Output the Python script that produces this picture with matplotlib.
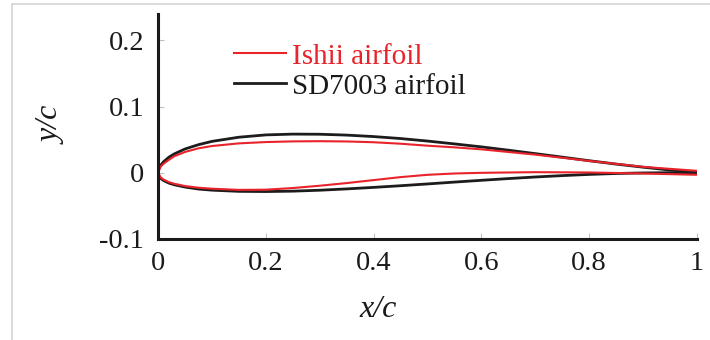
import matplotlib
matplotlib.use("Agg")
import matplotlib.pyplot as plt
from matplotlib.lines import Line2D

# SD7003 airfoil (approximate coordinates)
sd_x = [0, 0.0005, 0.0025, 0.005, 0.01, 0.02, 0.03, 0.05, 0.075, 0.1, 0.15, 0.2, 0.25,
        0.3, 0.35, 0.4, 0.45, 0.5, 0.55, 0.6, 0.65, 0.7, 0.75, 0.8, 0.85, 0.9, 0.95, 1.0]
sd_upper = [0, 0.0035, 0.0080, 0.0115, 0.0165, 0.0235, 0.0285, 0.0360, 0.0425, 0.0475,
            0.0538, 0.0573, 0.0585, 0.0583, 0.0570, 0.0548, 0.0518, 0.0480, 0.0437, 0.0392,
            0.0342, 0.0290, 0.0237, 0.0183, 0.0132, 0.0085, 0.0042, 0.0005]
sd_lower = [0, -0.0030, -0.0060, -0.0085, -0.0115, -0.0155, -0.0180, -0.0215, -0.0245,
            -0.0262, -0.0280, -0.0283, -0.0277, -0.0263, -0.0243, -0.0220, -0.0195, -0.0168,
            -0.0140, -0.0113, -0.0087, -0.0063, -0.0042, -0.0024, -0.0010, -0.0002, 0.0002, 0.0]

# Ishii airfoil (approximate coordinates)
ishii_x = [0, 0.005, 0.01, 0.02, 0.03, 0.05, 0.075, 0.1, 0.15, 0.2, 0.25, 0.3, 0.35, 0.4,
           0.45, 0.5, 0.55, 0.6, 0.7, 0.8, 0.9, 1.0]
ishii_upper = [0, 0.0095, 0.0135, 0.0195, 0.0250, 0.0315, 0.0370, 0.0405, 0.0445, 0.0465,
               0.0475, 0.0478, 0.0474, 0.0462, 0.0440, 0.0410, 0.0385, 0.0355, 0.0275,
               0.0180, 0.0090, 0.0030]
ishii_lower = [0, -0.0070, -0.0100, -0.0140, -0.0165, -0.0200, -0.0225, -0.0240, -0.0258,
               -0.0255, -0.0230, -0.0195, -0.0155, -0.0110, -0.0065, -0.0030, -0.0010,
               0.0000, 0.0010, 0.0005, -0.0010, -0.0030]

series_labels = ["Ishii airfoil", "SD7003 airfoil"]
x_ticks = [0, 0.2, 0.4, 0.6, 0.8, 1]
x_tick_labels = ["0", "0.2", "0.4", "0.6", "0.8", "1"]
y_ticks = [-0.1, 0, 0.1, 0.2]
y_tick_labels = ["-0.1", "0", "0.1", "0.2"]

RED = "#e8232b"
BLACK = "#1c1c1c"

plt.rcParams["font.family"] = ["Liberation Serif", "DejaVu Serif"]

fig = plt.figure(figsize=(7.1, 3.4), dpi=100)
ax = fig.add_axes([158 / 710, 1 - 239 / 340, (697 - 158) / 710, (239 - 14) / 340])

ax.plot(sd_x, sd_upper, color=BLACK, lw=2.0, solid_capstyle="butt")
ax.plot(sd_x, sd_lower, color=BLACK, lw=2.0, solid_capstyle="butt")
ax.plot(ishii_x, ishii_upper, color=RED, lw=1.5, solid_capstyle="butt")
ax.plot(ishii_x, ishii_lower, color=RED, lw=1.5, solid_capstyle="butt")

ax.set_xlim(0, 1)
ax.set_ylim(-0.1, 0.24)
ax.set_xticks(x_ticks)
ax.set_xticklabels(x_tick_labels)
ax.set_yticks(y_ticks)
ax.set_yticklabels(y_tick_labels)

for s in ["top", "right"]:
    ax.spines[s].set_visible(False)
for s in ["left", "bottom"]:
    ax.spines[s].set_linewidth(2.2)
    ax.spines[s].set_color("#1a1a1a")

ax.tick_params(axis="both", direction="in", length=4, width=0.8, color="#c0c0c0",
               labelsize=20.5, labelcolor="#1a1a1a")
ax.tick_params(axis="y", pad=10)
ax.tick_params(axis="x", pad=8.5)

ax.set_xlabel("x/c", fontsize=23, fontstyle="italic", color="#1a1a1a")
ax.xaxis.set_label_coords(0.408, -0.25)
ax.set_ylabel("y/c", fontsize=23, fontstyle="italic", color="#1a1a1a")
ax.yaxis.set_label_coords(-0.17, 0.507)

handles = [Line2D([], [], color=RED, lw=1.5), Line2D([], [], color=BLACK, lw=2.0)]
leg = ax.legend(handles, series_labels, loc="upper left", bbox_to_anchor=(0.141, 0.87),
                frameon=False, fontsize=21, handlelength=1.8, handletextpad=0.2,
                labelspacing=0.12, borderpad=0, borderaxespad=0)
leg.get_texts()[0].set_color(RED)
leg.get_texts()[1].set_color("#1a1a1a")

# light frame of the original picture
fig.add_artist(Line2D([11.5 / 710, 1], [1 - 3.5 / 340, 1 - 3.5 / 340],
                      transform=fig.transFigure, color="#d4d4d4", lw=1.2))
fig.add_artist(Line2D([11.5 / 710, 11.5 / 710], [0, 1 - 3.5 / 340],
                      transform=fig.transFigure, color="#d4d4d4", lw=1.2))

fig.savefig("out.png", dpi=100)
